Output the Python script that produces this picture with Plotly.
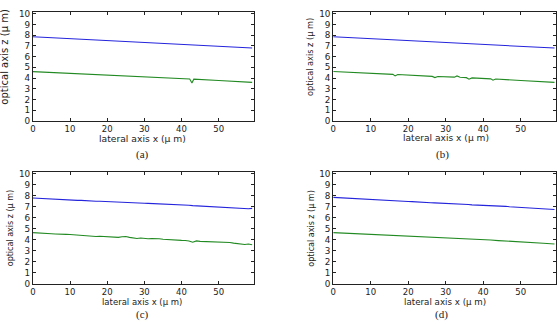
import plotly.graph_objects as go

W, H = 558, 324

# ---------------- data ----------------
# (a)
xa_blue = [0, 10, 20, 30, 40, 50, 59]
za_blue = [7.85, 7.68, 7.50, 7.33, 7.15, 6.97, 6.80]
xa_green = [0, 10, 20, 30, 40, 42.2, 42.8, 43.3, 50, 59]
za_green = [4.60, 4.44, 4.27, 4.10, 3.93, 3.91, 3.55, 3.90, 3.78, 3.60]

# (b)
xb_blue = [0, 10, 20, 30, 40, 50, 59]
zb_blue = [7.85, 7.68, 7.50, 7.33, 7.15, 6.97, 6.80]
xb_green = [0, 15.9, 16.5, 17.2, 26.4, 27.1, 27.9, 32.3, 33.0, 33.8, 35.5, 36.2, 37.0, 42.0, 42.6, 43.3, 50, 59]
zb_green = [4.62, 4.35, 4.20, 4.33, 4.16, 4.05, 4.15, 4.09, 4.20, 4.08, 4.04, 3.90, 4.02, 3.93, 3.80, 3.91, 3.78, 3.60]

# (c)
xc = list(range(60))
zc_blue = [7.80, 7.78, 7.72, 7.70, 7.70, 7.68, 7.67, 7.67, 7.66, 7.62,
           7.60, 7.60, 7.58, 7.58, 7.55, 7.52, 7.52, 7.50, 7.50, 7.48,
           7.47, 7.46, 7.46, 7.42, 7.40, 7.40, 7.38, 7.37, 7.36, 7.33,
           7.32, 7.31, 7.30, 7.28, 7.26, 7.25, 7.24, 7.22, 7.20, 7.18,
           7.17, 7.15, 7.14, 7.10, 7.08, 7.07, 7.05, 7.03, 7.01, 7.00,
           6.98, 6.97, 6.95, 6.92, 6.91, 6.90, 6.86, 6.83, 6.82, 6.85]
zc_green = [4.65, 4.62, 4.58, 4.57, 4.56, 4.55, 4.53, 4.50, 4.50, 4.49,
            4.48, 4.45, 4.42, 4.40, 4.36, 4.33, 4.28, 4.30, 4.33, 4.32,
            4.30, 4.28, 4.26, 4.22, 4.28, 4.30, 4.22, 4.18, 4.12, 4.16,
            4.12, 4.10, 4.12, 4.14, 4.10, 4.05, 4.02, 3.98, 3.98, 3.96,
            3.95, 3.94, 3.90, 3.78, 3.90, 3.86, 3.85, 3.82, 3.84, 3.80,
            3.78, 3.78, 3.75, 3.76, 3.70, 3.65, 3.62, 3.58, 3.62, 3.55]

# (d)
xd = list(range(60))
zd_blue = [7.85, 7.83, 7.80, 7.78, 7.76, 7.77, 7.74, 7.70, 7.66, 7.66,
           7.64, 7.63, 7.62, 7.60, 7.58, 7.56, 7.55, 7.52, 7.50, 7.50,
           7.48, 7.47, 7.44, 7.40, 7.42, 7.40, 7.36, 7.35, 7.34, 7.32,
           7.30, 7.28, 7.27, 7.24, 7.22, 7.22, 7.20, 7.17, 7.16, 7.14,
           7.12, 7.10, 7.10, 7.07, 7.06, 7.03, 7.04, 7.00, 6.98, 6.97,
           6.96, 6.95, 6.94, 6.90, 6.89, 6.85, 6.82, 6.80, 6.78, 6.75]
xd_green = [0, 2, 4, 6, 8, 10, 12, 14, 16, 18, 20, 22, 24, 26, 28, 30,
            32, 34, 36, 38, 40, 42, 44, 46, 48, 50, 52, 54, 56, 58, 59]
zd_green = [4.65, 4.62, 4.60, 4.58, 4.55, 4.50, 4.47, 4.43, 4.40, 4.36,
            4.33, 4.31, 4.28, 4.25, 4.22, 4.18, 4.14, 4.11, 4.08, 4.05,
            4.02, 3.98, 3.93, 3.88, 3.84, 3.80, 3.76, 3.72, 3.69, 3.65, 3.62]

x_ticks = [0, 10, 20, 30, 40, 50]
z_ticks = list(range(11))
x_title = "lateral axis x (\u03bc m)"
z_title = "optical axis z (\u03bc m)"
captions = ["(a)", "(b)", "(c)", "(d)"]

BLUE = "#2424dc"
GREEN = "#228a22"

panels = [
    (xa_blue, za_blue, xa_green, za_green),
    (xb_blue, zb_blue, xb_green, zb_green),
    (xc, zc_blue, xc, zc_green),
    (xd, zd_blue, xd_green, zd_green),
]

# plot-area boxes in pixels: left, right, top, bottom
boxes = [
    (30, 252, 9, 121),
    (332, 556, 9, 121),
    (30, 252, 173, 288),
    (332, 556, 173, 288),
]
# label positions (pixels) and font sizes
ytitle_pos = [(2, 55, 10), (308, 55, 8.2), (7, 231, 8), (310, 231, 8)]
xtitle_pos = [(140, 138.5, 9.2), (445, 138.5, 9.1), (140, 307, 8.5), (444, 307, 8.7)]
cap_pos = [(140, 155), (442, 155), (140, 319), (441, 319)]

fig = go.Figure()
layout = dict(
    width=W, height=H, autosize=False,
    margin=dict(l=0, r=0, t=0, b=0),
    paper_bgcolor="white", plot_bgcolor="white",
    showlegend=False,
    font=dict(family="DejaVu Sans", size=9, color="#222"),
)
annotations = []

for i, ((xb, zb, xg, zg), (l, r, t, b)) in enumerate(zip(panels, boxes)):
    n = "" if i == 0 else str(i + 1)
    fig.add_trace(go.Scatter(x=xb, y=zb, mode="lines", line=dict(color=BLUE, width=1.1),
                             xaxis="x" + n, yaxis="y" + n))
    fig.add_trace(go.Scatter(x=xg, y=zg, mode="lines", line=dict(color=GREEN, width=1.1),
                             xaxis="x" + n, yaxis="y" + n))
    common = dict(showline=True, linecolor="#222", linewidth=1, mirror="allticks",
                  ticks="inside", ticklen=3, tickcolor="#222", showgrid=False,
                  zeroline=False)
    layout["xaxis" + n] = dict(domain=[l / W, r / W], range=[0, 59.4],
                               tickvals=x_ticks, anchor="y" + n,
                               tickfont=dict(size=8.5, color="#222"), **common)
    layout["yaxis" + n] = dict(domain=[1 - b / H, 1 - t / H], range=[0, 10.18],
                               tickvals=z_ticks, anchor="x" + n,
                               tickfont=dict(size=8.8, color="#222"), **common)
    yx, yy, ys = ytitle_pos[i]
    annotations.append(dict(text=z_title, x=yx / W, y=1 - yy / H, xref="paper", yref="paper",
                            textangle=-90, showarrow=False, xanchor="center", yanchor="middle",
                            borderpad=0, font=dict(size=ys, color="#222")))
    xx, xy, xs = xtitle_pos[i]
    annotations.append(dict(text=x_title, x=xx / W, y=1 - xy / H, xref="paper", yref="paper",
                            showarrow=False, xanchor="center", yanchor="middle",
                            borderpad=0, font=dict(size=xs, color="#222")))
    cx, cy = cap_pos[i]
    annotations.append(dict(text=captions[i], x=cx / W, y=1 - cy / H, xref="paper", yref="paper",
                            showarrow=False, xanchor="center", yanchor="middle",
                            borderpad=0, font=dict(family="Liberation Serif", size=11, color="#222")))

layout["annotations"] = annotations
fig.update_layout(**layout)
fig.write_html("out.html")
